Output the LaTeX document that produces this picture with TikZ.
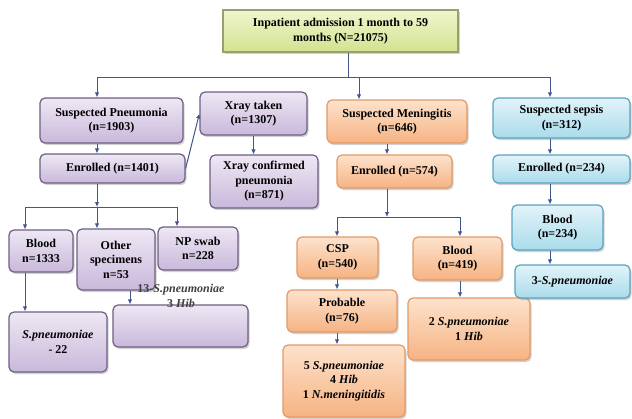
\documentclass[tikz,border=0pt]{standalone}
\usepackage{fontspec}
\setmainfont{Liberation Serif}
\usetikzlibrary{arrows.meta,shadows}
\definecolor{lin}{HTML}{435590}
\definecolor{gbd}{HTML}{98A070}\definecolor{gtp}{HTML}{F0F6CE}\definecolor{gbt}{HTML}{D2E290}
\definecolor{pbd}{HTML}{6E5F84}\definecolor{ptp}{HTML}{EEE8F4}\definecolor{pbt}{HTML}{C9B8DB}
\definecolor{obd}{HTML}{E39A66}\definecolor{otp}{HTML}{FDE2CC}\definecolor{obt}{HTML}{F6B383}
\definecolor{cbd}{HTML}{5AA3BE}\definecolor{ctp}{HTML}{E2F3F9}\definecolor{cbt}{HTML}{AADCEC}

\begin{document}
\begin{tikzpicture}[x=1pt,y=-1pt,
  b/.style={rounded corners=5pt,align=center,inner sep=1pt,line width=1.2pt,
    font=\bfseries\fontsize{12}{14.5}\selectfont,
    drop shadow={shadow xshift=1.5pt,shadow yshift=-2pt,opacity=.35}},
  gb/.style={b,draw=gbd,top color=gtp,bottom color=gbt,rounded corners=0pt},
  pb/.style={b,draw=pbd,top color=ptp,bottom color=pbt},
  ob/.style={b,draw=obd,top color=otp,bottom color=obt},
  cb/.style={b,draw=cbd,top color=ctp,bottom color=cbt},
  c/.style={draw=lin,line width=1pt},
  a/.style={c,-{Latex[length=5pt,width=4.5pt]}}]
\fill[white] (0,0) rectangle (632,418);
\useasboundingbox (0,0) rectangle (632,418);
\node[gb,minimum width=235,minimum height=42](top) at (340.5,31) {Inpatient admission 1 month to 59\\months (N=21075)};
\node[pb,minimum width=143,minimum height=45](sp) at (111.5,120.5) {Suspected Pneumonia\\(n=1903)};
\node[pb,minimum width=145,minimum height=29](enp) at (112.5,168.5) {Enrolled (n=1401)};
\node[pb,minimum width=107,minimum height=43](xray) at (253.5,113.5) {Xray taken\\(n=1307)};
\node[pb,minimum width=108,minimum height=53](xconf) at (264,181.5) {Xray confirmed\\pneumonia\\(n=871)};
\node[ob,minimum width=140,minimum height=43](sm) at (397,121.5) {Suspected Meningitis\\(n=646)};
\node[ob,minimum width=115,minimum height=33](enm) at (394.5,171.5) {Enrolled (n=574)};
\node[cb,minimum width=137,minimum height=40](ss) at (561.5,118) {Suspected sepsis\\(n=312)};
\node[cb,minimum width=137,minimum height=28](ens) at (561.5,169) {Enrolled (n=234)};
\node[pb,minimum width=64,minimum height=42](bl1) at (41,251) {Blood\\n=1333};
\node[pb,minimum width=78,minimum height=61](oth) at (116,259.5) {Other\\specimens\\n=53};
\node[pb,minimum width=80,minimum height=43](np) at (198,248.5) {NP swab\\n=228};
\node[pb,minimum width=98,minimum height=60](spn) at (58,342) {\textit{S.pneumoniae}\\- 22};
\node[pb,minimum width=135,minimum height=42](emp) at (180.5,326) {};
\node[align=center,text=black!75,font=\bfseries\fontsize{12}{14.5}\selectfont](lab) at (181,296) {13-\textit{S.pneumoniae}\\3 \textit{Hib}};
\node[ob,minimum width=81,minimum height=41](csp) at (337.5,257.5) {CSP\\(n=540)};
\node[ob,minimum width=89,minimum height=43](blm) at (457.5,258.5) {Blood\\(n=419)};
\node[ob,minimum width=110,minimum height=42](prob) at (342,311) {Probable\\(n=76)};
\node[ob,minimum width=122,minimum height=72](res5) at (344,381) {5 \textit{S.pneumoniae}\\4 \textit{Hib}\\1 \textit{N.meningitidis}};
\node[ob,minimum width=122,minimum height=62](res2) at (469,329) {2 \textit{S.pneumoniae}\\1 \textit{Hib}};
\node[cb,minimum width=91,minimum height=45](bls) at (557.5,227.5) {Blood\\(n=234)};
\node[cb,minimum width=115,minimum height=33](res3) at (572.5,281.5) {3-\textit{S.pneumoniae}};
\coordinate (j0) at (348,77);\coordinate (jp) at (97,77);
\coordinate (jm) at (359,77);\coordinate (js) at (550,77);
\coordinate (k1) at (97,207);\coordinate (k1l) at (25,207);\coordinate (k1r) at (177,207);
\coordinate (k2) at (130,300);
\coordinate (jn) at (387,217);\coordinate (jnl) at (337,217);\coordinate (jnr) at (460,217);
\draw[c] (top.south -| j0) -- (j0);\draw[c] (jp) -- (js);
\draw[a] (jp) -- (jp |- sp.north);\draw[a] (jm) -- (jm |- sm.north);
\draw[a] (js) -- (js |- ss.north);
\draw[a] (sp.south -| jp) -- (enp.north -| jp);
\draw[a] (enp.east) -- (xray.west);
\draw[a] (xray.south) -- (xray.south |- xconf.north);
\draw[a] (enp.south -| k1) -- (k1);\draw[c] (k1l) -- (k1r);
\draw[a] (k1l) -- (k1l |- bl1.north);\draw[a] (k1) -- (k1 |- oth.north);
\draw[a] (k1r) -- (k1r |- np.north);
\draw[a] (bl1.south -| k1l) -- (spn.north -| k1l);
\draw[a] (oth.south -| k2) -- (emp.north -| k2);
\draw[a] (sm.south -| jn) -- (enm.north -| jn);
\draw[a] (enm.south -| jn) -- (jn);\draw[c] (jnl) -- (jnr);
\draw[a] (jnl) -- (jnl |- csp.north);\draw[a] (jnr) -- (jnr |- blm.north);
\draw[a] (csp.south -| jnl) -- (prob.north -| jnl);
\draw[a] (prob.south -| jnl) -- (res5.north -| jnl);
\draw[a] (blm.south -| jnr) -- (res2.north -| jnr);
\draw[a] (ss.south -| js) -- (ens.north -| js);
\draw[a] (ens.south -| js) -- (bls.north -| js);
\draw[a] (bls.south -| js) -- (res3.north -| js);
\end{tikzpicture}
\end{document}
